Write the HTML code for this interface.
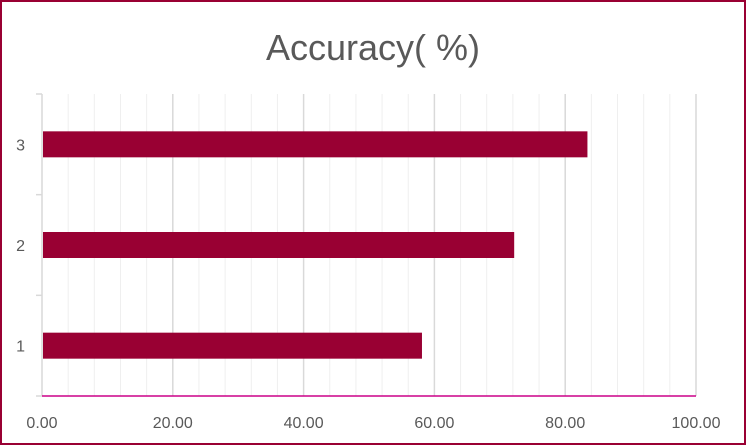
<!DOCTYPE html>
<html><head><meta charset="utf-8"><style>
html,body{margin:0;padding:0;background:#fff}
svg{display:block}
</style></head><body>
<svg id="chart" width="746" height="445" xmlns="http://www.w3.org/2000/svg">
<rect x="1" y="1" width="744" height="443" fill="#fff" stroke="#990033" stroke-width="2"/>
<text x="373" y="60" text-anchor="middle" font-family="Liberation Sans, sans-serif" font-size="36" fill="#595959">Accuracy( %)</text>
<g id="grid"></g><g id="bars"></g><g id="axes"></g>
</svg>
<script>
const categories = ["1","2","3"];
const values = [58.1, 72.2, 83.4];
const xTicks = ["0.00","20.00","40.00","60.00","80.00","100.00"];
const NS="http://www.w3.org/2000/svg";
const x0=42,x1=696,yTop=94,yBot=396;
function xs(v){return x0+(v/100)*(x1-x0);}
const band=(yBot-yTop)/categories.length;
function yc(i){return yBot-band*(i+0.5);}
function mk(t,a,p){const e=document.createElementNS(NS,t);for(const k in a)e.setAttribute(k,a[k]);document.getElementById(p).appendChild(e);return e;}
for(let v=4;v<=100;v+=4){
  const major=v%20===0;
  const l=mk('line',{x1:xs(v),x2:xs(v),y1:yTop,y2:yBot,stroke:major?'#d9d9d9':'#efefef','stroke-width':major?1.5:1},'grid');
  
  
}
values.forEach((v,i)=>{
  const r=mk('rect',{x:xs(0)+1,y:yc(i)-13,width:xs(v)-xs(0)-1,height:26,fill:'#990033'},'bars');
  
  
  const t=mk('text',{x:25,y:yc(i)+6,'text-anchor':'end','font-family':'Liberation Sans, sans-serif','font-size':16,fill:'#595959'},'axes');
  t.textContent=categories[i];
  
  
});
const ya=mk('line',{x1:x0,x2:x0,y1:yTop,y2:yBot,stroke:'#d9d9d9','stroke-width':1.5},'axes');


for(let i=0;i<=categories.length;i++){
  const y=yBot-band*i;
  const tk=mk('line',{x1:36,x2:x0,y1:y,y2:y,stroke:'#d9d9d9','stroke-width':1.5},'axes');
  
  
}
const xa=mk('line',{x1:x0,x2:x1,y1:yBot,y2:yBot,stroke:'#cc0088','stroke-width':1.5},'axes');


xTicks.forEach((s,i)=>{
  const t=mk('text',{x:xs(i*20),y:428,'text-anchor':'middle','font-family':'Liberation Sans, sans-serif','font-size':16,fill:'#595959'},'axes');
  t.textContent=s;
  
  
});
</script>
</body></html>
